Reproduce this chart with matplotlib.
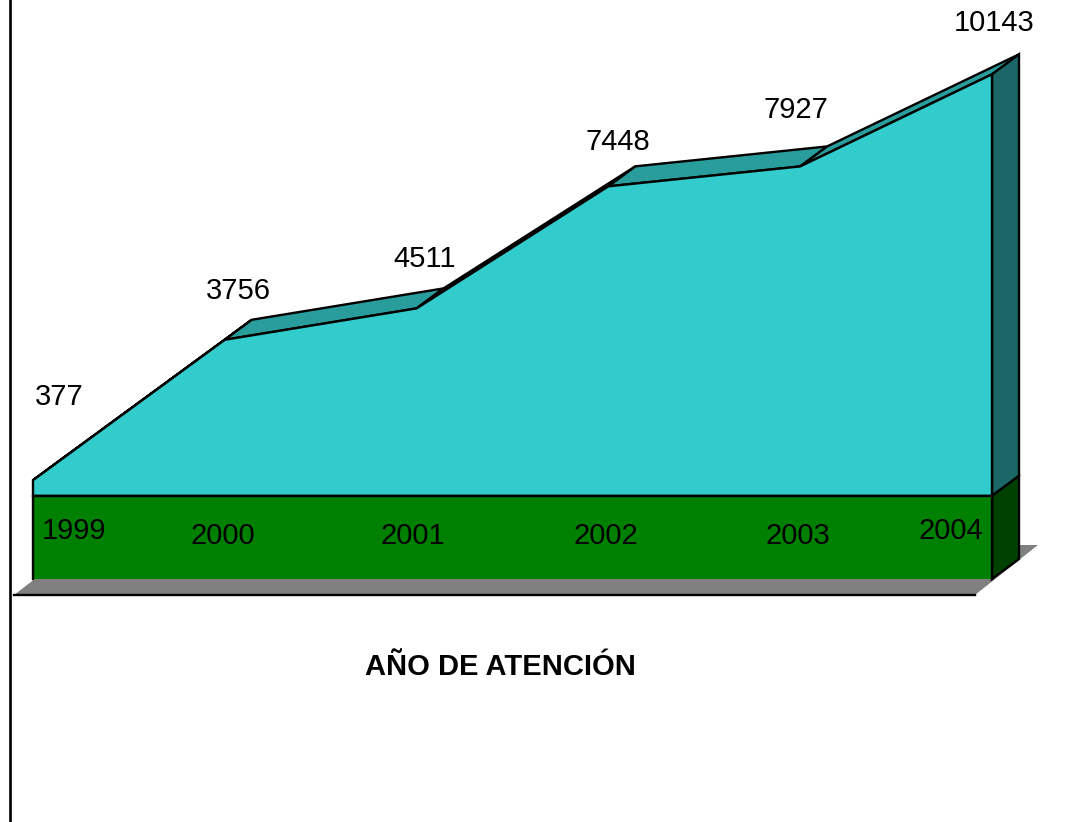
import matplotlib
matplotlib.use('Agg')
import matplotlib.pyplot as plt
from matplotlib.lines import Line2D
from matplotlib.patches import Polygon

plt.rcParams['font.family'] = ['Liberation Sans', 'DejaVu Sans']

# Values
years = ['1999', '2000', '2001', '2002', '2003', '2004']
attended = [377, 3756, 4511, 7448, 7927, 10143]
axis_floor = -2000
axis_top = 11000

# Colours
CYAN = '#33CCCC'
TOP_FACE = '#299C9C'
SIDE_FACE = '#1B6666'
GREEN = '#008000'
DARK_GREEN = '#004000'
GREY = '#808080'

LW = 1.7
FS = 21
W, H = 1073, 822
LEFT, RIGHT, BOTTOM, TOP = 33, 992, 579, 38.7

fig = plt.figure(figsize=(W / 100, H / 100), dpi=100)
ax = fig.add_axes([LEFT / W, 1 - BOTTOM / H, (RIGHT - LEFT) / W, (BOTTOM - TOP) / H])
ax.set_xlim(0, len(years) - 1)
ax.set_ylim(axis_floor, axis_top)
ax.axis('off')

px_x = (RIGHT - LEFT) / (len(years) - 1)
px_y = (BOTTOM - TOP) / (axis_top - axis_floor)


# move a data point by some pixels, for the fake 3D depth
def shift(x, y, dx, dy):
    return (x + dx / px_x, y + dy / px_y)


def face(points, color, edge='black', z=1):
    ax.add_patch(Polygon(points, closed=True, facecolor=color, edgecolor=edge,
                         linewidth=LW if edge != 'none' else 0, joinstyle='miter',
                         clip_on=False, zorder=z))


DEPTH = (27, 20)
last = len(years) - 1
xs = list(range(len(years)))

# floor
face([shift(0, axis_floor, -19, -16), shift(last, axis_floor, -17, -16),
      shift(last, axis_floor, 46, 34), shift(0, axis_floor, 46, 34)], GREY, edge='none', z=1)
ax.plot(*zip(shift(0, axis_floor, -19, -16), shift(last, axis_floor, -17, -16)),
        color='black', lw=LW, clip_on=False, zorder=2)

# sloped top faces
for i in range(last):
    a = (xs[i], attended[i])
    b = (xs[i + 1], attended[i + 1])
    face([a, b, shift(*b, *DEPTH), shift(*a, *DEPTH)], TOP_FACE, z=3)

# right hand side
face([(last, 0), (last, attended[-1]), shift(last, attended[-1], *DEPTH), shift(last, 0, *DEPTH)],
     SIDE_FACE, z=3)
face([(last, axis_floor), (last, 0), shift(last, 0, *DEPTH), shift(last, axis_floor, *DEPTH)],
     DARK_GREEN, z=3)

# front faces
face([(0, 0)] + list(zip(xs, attended)) + [(last, 0)], CYAN, z=4)
ax.add_patch(Polygon([(0, axis_floor), (0, 0), (last, 0), (last, axis_floor)], closed=True,
                     facecolor=GREEN, edgecolor='none', clip_on=False, zorder=5))
ax.plot([0, 0, last, last], [axis_floor, 0, 0, axis_floor], color='black', lw=LW,
        solid_joinstyle='miter', clip_on=False, zorder=6)

# labels, offsets in pixels from the point they belong to
value_offsets = [(26, 86), (14, 52), (8, 52), (9, 47), (-4, 59), (2, 54)]
year_offsets = [(41, -32), (-2, -37), (-4, -37), (-3, -37), (-2, -37), (-41, -32)]
for x, v, off in zip(xs, attended, value_offsets):
    ax.annotate(str(v), (x, v), xytext=off, textcoords='offset pixels', fontsize=FS,
                ha='center', va='center_baseline', annotation_clip=False, zorder=7)
for x, y, off in zip(xs, years, year_offsets):
    ax.annotate(y, (x, 0), xytext=off, textcoords='offset pixels', fontsize=FS,
                ha='center', va='center_baseline', annotation_clip=False, zorder=7)

fig.text(500.5 / W, 1 - 664 / H, 'AÑO DE ATENCIÓN', fontsize=FS, fontweight='bold',
         ha='center', va='center_baseline')

# vertical rule on the left of the slide
fig.add_artist(Line2D([10 / W, 10 / W], [0, 1], color='black', lw=1.9))

fig.savefig('out.png', dpi=100)
